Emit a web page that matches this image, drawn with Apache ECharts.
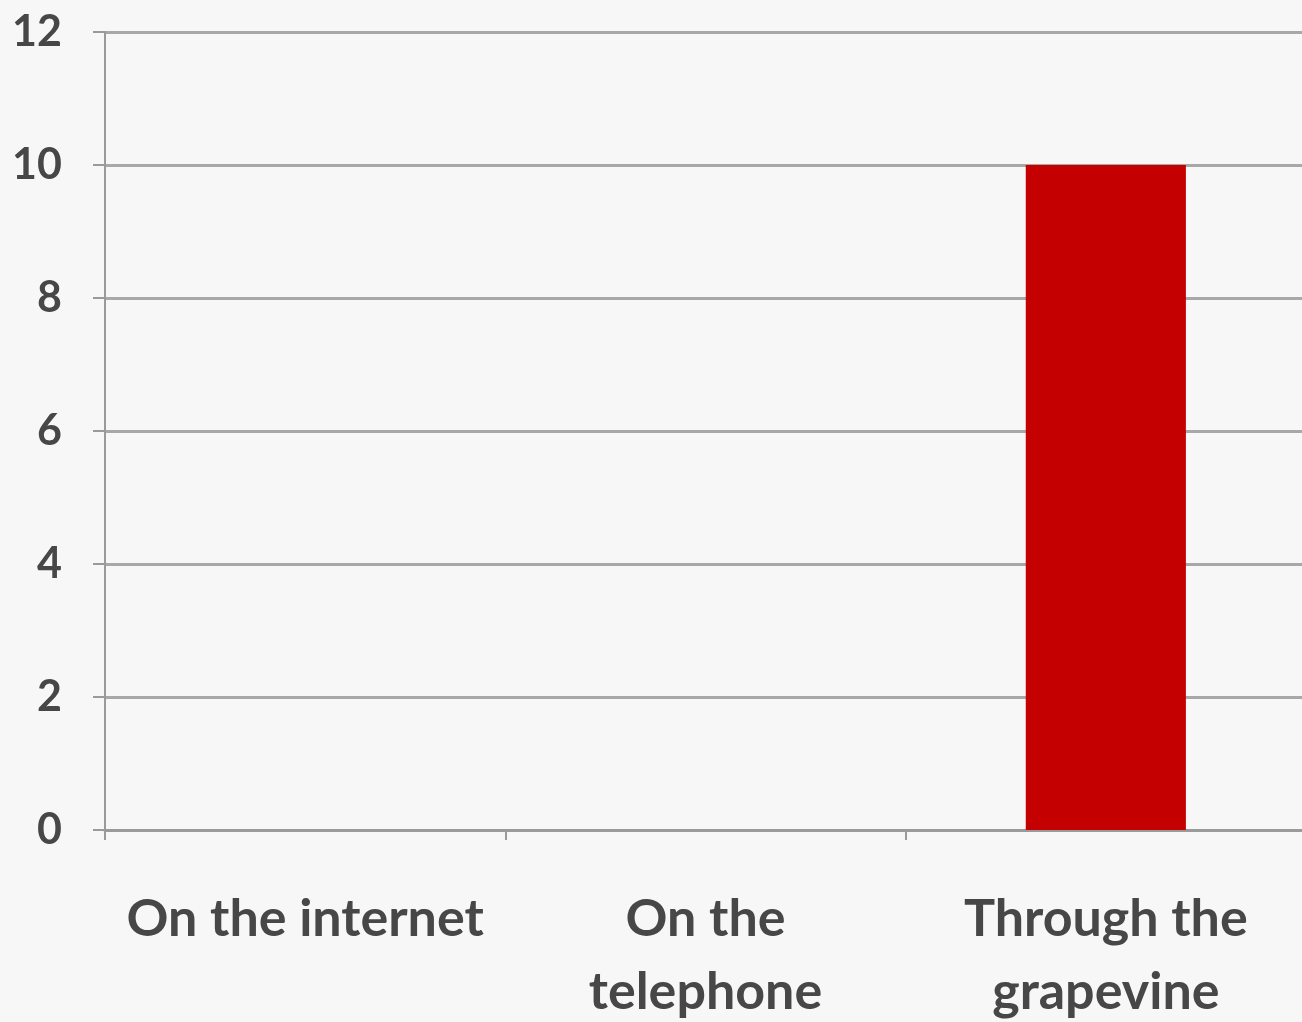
<!DOCTYPE html>
<html><head><meta charset="utf-8">
<style>html,body{margin:0;padding:0;background:#f7f7f7;}#c{width:1302px;height:1022px;}</style>
<script src="https://cdn.jsdelivr.net/npm/echarts@6/dist/echarts.min.js"></script>
</head><body><div id="c"></div>
<script>
var categories = ['On the internet', 'On the\ntelephone', 'Through the\ngrapevine'];
var values = [0, 0, 10];
var yTicks = [0, 2, 4, 6, 8, 10, 12];

var chart = echarts.init(document.getElementById('c'));
chart.setOption({
  backgroundColor: '#f7f7f7',
  animation: false,
  grid: { left: 105, top: 32, width: 1201, bottom: 192, containLabel: false, outerBoundsMode: 'none' },
  xAxis: {
    type: 'category', data: categories,
    axisLine: { lineStyle: { color: '#9a9a9a', width: 3 } },
    axisTick: { show: true, length: 10, lineStyle: { color: '#9a9a9a', width: 2 } },
    axisLabel: { fontFamily: 'Lato', fontWeight: 'bold', fontSize: 52, color: '#474747', margin: 53, lineHeight: 73, interval: 0 }
  },
  yAxis: {
    type: 'value', min: yTicks[0], max: yTicks[yTicks.length-1], interval: 2,
    axisLine: { show: true, lineStyle: { color: '#9a9a9a', width: 2 } },
    axisTick: { show: true, length: 12, lineStyle: { color: '#9a9a9a', width: 2 } },
    splitLine: { lineStyle: { color: '#a8a8a8', width: 3 } },
    axisLabel: { fontFamily: 'Lato', fontWeight: 'bold', fontSize: 43, color: '#474747', margin: 43 }
  },
  series: [{
    type: 'bar', data: values, barWidth: '40%',
    itemStyle: { color: '#c40000' }
  }]
});
</script></body></html>
